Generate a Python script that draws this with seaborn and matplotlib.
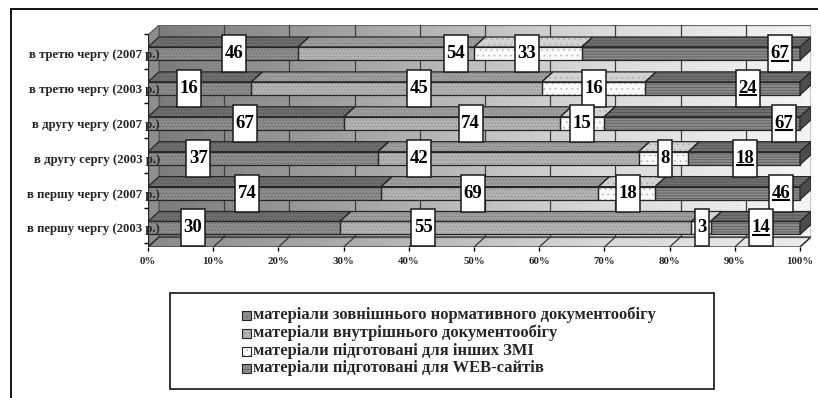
import numpy as np
import pandas as pd
import matplotlib
matplotlib.use("Agg")
import matplotlib.pyplot as plt
import seaborn as sns
from matplotlib.patches import Polygon, Rectangle
from matplotlib.path import Path
from matplotlib.lines import Line2D
from matplotlib.colors import LinearSegmentedColormap
from matplotlib.transforms import Affine2D, IdentityTransform

# ---------------------------------------------------------------- data
categories = [
    "в третю чергу (2007 р.)",
    "в третю чергу (2003 р.)",
    "в другу чергу (2007 р.)",
    "в другу сергу (2003 р.)",
    "в першу чергу (2007 р.)",
    "в першу чергу (2003 р.)",
]
series_names = [
    "матеріали зовнішнього нормативного документообігу",
    "матеріали внутрішнього документообігу",
    "матеріали підготовані для інших ЗМІ",
    "матеріали підготовані для WEB-сайтів",
]
external_docs = [46, 16, 67, 37, 74, 30]
internal_docs = [54, 45, 74, 42, 69, 55]
other_media = [33, 16, 15, 8, 18, 3]
web_sites = [67, 24, 67, 18, 46, 14]
x_ticks = [0, 10, 20, 30, 40, 50, 60, 70, 80, 90, 100]
x_tick_labels = ["0%", "10%", "20%", "30%", "40%", "50%", "60%", "70%", "80%", "90%", "100%"]

# ---------------------------------------------------------------- layout / style
W, H = 818, 398
PX_PER_PCT = 6.52
PX_PER_ROW = 34.9
DX = 11 / PX_PER_PCT          # depth offset along x (percent units)
DY = 10 / PX_PER_ROW          # depth offset along y (row units)
BAR_W = 13 / PX_PER_ROW
Y_FLOOR = (247 - 53.5) / PX_PER_ROW
Y_TOP = (25 - 53.5) / PX_PER_ROW

# horizontal position (percent) of each value box, per row and series
label_x = [
    [13.2, 47.2, 58.1, 96.9],
    [6.3, 41.6, 68.4, 92.0],
    [14.9, 49.5, 66.6, 97.5],
    [7.7, 41.6, 79.3, 91.6],
    [15.2, 49.8, 73.6, 97.1],
    [6.9, 42.2, 85.0, 94.0],
]

front_col = ["#8c8c8c", "#b3b3b3", "#fbfbfb", "#8a8a8a"]
front_hatch_col = ["#6c6c6c", "#939393", "#bdbdbd", "#5e5e5e"]
top_col = ["#6e6e6e", "#9d9d9d", "#d3d3d3", "#717171"]
top_hatch_col = ["#565656", "#828282", "#b0b0b0", "#555555"]
hatches = [".....", ".....", "...", "------"]
END_COL = "#4c4c4c"
EDGE = "#262626"

sns.set_style("white")
plt.rcParams["font.family"] = ["Liberation Serif", "DejaVu Serif"]
plt.rcParams["font.weight"] = "bold"
plt.rcParams["hatch.linewidth"] = 0.6

# ---------------------------------------------------------------- shares
counts = pd.DataFrame(
    {
        series_names[0]: external_docs,
        series_names[1]: internal_docs,
        series_names[2]: other_media,
        series_names[3]: web_sites,
    },
    index=categories,
)
shares = counts.div(counts.sum(axis=1), axis=0) * 100
cum = shares.cumsum(axis=1)
starts = cum - shares

fig = plt.figure(figsize=(W / 100, H / 100), dpi=100)
ax = fig.add_axes([148 / W, (H - 247) / H, 663 / W, 222 / H])

# ---------------------------------------------------------------- walls
wall_cmap = LinearSegmentedColormap.from_list("wall", ["#7c7c7c", "#a9a9a9", "#d9d9d9", "#f5f5f5"])
floor_cmap = LinearSegmentedColormap.from_list("floor", ["#8a8a8a", "#b0b0b0", "#d6d6d6", "#ececec"])
grad = np.linspace(0, 1, 256).reshape(1, -1)
ax.imshow(grad, extent=(DX, 100 + DX, Y_FLOOR - DY, Y_TOP), aspect="auto",
          cmap=wall_cmap, zorder=0.1, interpolation="bilinear")
ax.add_patch(Rectangle((DX, Y_TOP), 100, Y_FLOOR - DY - Y_TOP, fill=False,
                       edgecolor="#6a6a6a", lw=0.9, zorder=0.3))

floor_pts = [(0, Y_FLOOR), (100, Y_FLOOR), (100 + DX, Y_FLOOR - DY), (DX, Y_FLOOR - DY)]
floor_poly = Polygon(floor_pts, closed=True, facecolor="none", edgecolor="#333333", lw=0.9, zorder=0.4)
ax.add_patch(floor_poly)
fim = ax.imshow(grad, extent=(0, 100 + DX, Y_FLOOR, Y_FLOOR - DY), aspect="auto",
                cmap=floor_cmap, zorder=0.2, interpolation="bilinear")
fim.set_clip_path(floor_poly)

left_wall = Polygon([(0, Y_FLOOR), (0, Y_TOP + DY), (DX, Y_TOP), (DX, Y_FLOOR - DY)], closed=True,
                    facecolor="#8e8e8e", edgecolor="#555555", lw=0.8, zorder=0.3)
ax.add_patch(left_wall)
ax.plot([0, 0], [Y_FLOOR, Y_TOP + DY], color="#222222", lw=1.0, zorder=0.5)

# grid on back wall and floor
for t in x_ticks:
    if t > 0:
        ax.plot([t + DX, t + DX], [Y_FLOOR - DY, Y_TOP], color="#3e3e3e", lw=0.9, zorder=0.5)
    ax.plot([t, t + DX], [Y_FLOOR, Y_FLOOR - DY], color="#333333", lw=0.9, zorder=0.5)

# ---------------------------------------------------------------- bars (front faces)
for s in range(3, -1, -1):
    n_before = len(ax.patches)
    sns.barplot(x=cum[series_names[s]].values, y=categories, orient="h", color=front_col[s],
                width=BAR_W, saturation=1, errorbar=None, ax=ax)
    for p in ax.patches[n_before:]:
        p.set_hatch(hatches[s])
        p.set_facecolor(front_col[s])
        p.set_edgecolor(front_hatch_col[s])
        p.set_linewidth(0)
        p.set_zorder(1)

# top faces, outlines and right end faces
for i, cat in enumerate(categories):
    yt, yb = i - BAR_W / 2, i + BAR_W / 2
    for s, name in enumerate(series_names):
        x0, x1 = starts.loc[cat, name], cum.loc[cat, name]
        pts = [(x0, yt), (x1, yt), (x1 + DX, yt - DY), (x0 + DX, yt - DY)]
        ax.add_patch(Polygon(pts, closed=True, facecolor=top_col[s], edgecolor=top_hatch_col[s],
                             hatch=hatches[s], lw=0, zorder=2))
        ax.add_patch(Polygon(pts, closed=True, fill=False, edgecolor=EDGE, lw=0.9, zorder=2.6))
        ax.add_patch(Rectangle((x0, yt), x1 - x0, BAR_W, fill=False, edgecolor=EDGE, lw=0.9, zorder=2.6))
    xe = cum.loc[cat, series_names[-1]]
    ax.add_patch(Polygon([(xe, yt), (xe + DX, yt - DY), (xe + DX, yb - DY), (xe, yb)], closed=True,
                         facecolor=END_COL, edgecolor=EDGE, lw=0.9, zorder=2.6))


# ---------------------------------------------------------------- value boxes
def tall_box(x0, y0, width, height, mutation_size):
    pad_x = 2.5
    box_h = 37.0
    cy = y0 + height / 2
    left, right = x0 - pad_x, x0 + width + pad_x
    bottom, top = cy - box_h / 2, cy + box_h / 2
    return Path([(left, bottom), (right, bottom), (right, top), (left, top), (left, bottom)], closed=True)


underlined = []
for i, cat in enumerate(categories):
    for s, name in enumerate(series_names):
        t = ax.text(label_x[i][s], i, f"{counts.loc[cat, name]}", ha="center", va="center",
                    fontsize=13.5, fontweight="bold", color="black", zorder=6,
                    bbox=dict(boxstyle=tall_box, facecolor="white", edgecolor="#1a1a1a", lw=1.1))
        if s == 3:
            underlined.append(t)

# ---------------------------------------------------------------- axes
ax.set_xlim(0, 100 + DX)
ax.set_ylim(Y_FLOOR, Y_TOP)
ax.set_xlabel("")
ax.set_ylabel("")
for sp in ax.spines.values():
    sp.set_visible(False)
ax.set_xticks(x_ticks)
ax.set_xticklabels(x_tick_labels, fontsize=7.8, fontweight="bold")
ax.tick_params(axis="x", which="major", direction="out", length=3, width=1, color="black", pad=4.5,
               bottom=True)
ax.set_yticks(range(len(categories)))
ax.set_yticklabels(categories, fontsize=9.2, fontweight="bold")
ax.set_yticks([k - 0.57 for k in range(len(categories) + 1)], minor=True)
ax.tick_params(axis="y", which="major", length=0, pad=-8.5, left=True)
ax.tick_params(axis="y", which="minor", direction="out", length=3, width=1, color="black", left=True)
ax.grid(False)
ax.set_facecolor("none")
ax.xaxis.set_zorder(7)
ax.yaxis.set_zorder(7)

# ---------------------------------------------------------------- frame and legend (pixel coords)
pix = Affine2D().scale(1, -1).translate(0, H)
fig.add_artist(Line2D([11, W], [9, 9], color="black", lw=1.3, transform=pix))
fig.add_artist(Line2D([11, 11], [9, H], color="black", lw=1.3, transform=pix))
fig.add_artist(Rectangle((170, 293), 544, 96, fill=False, edgecolor="black", lw=1.1, transform=pix))

legend_rows = [315, 333, 351, 368.5]
for s, name in enumerate(series_names):
    yc = legend_rows[s]
    fig.add_artist(Rectangle((242, yc - 4.5), 9, 9, facecolor=front_col[s], edgecolor=front_hatch_col[s],
                             hatch=hatches[s][:3], lw=0, transform=pix))
    fig.add_artist(Rectangle((242, yc - 4.5), 9, 9, fill=False, edgecolor="#222222", lw=0.8, transform=pix))
    fig.text(253, yc, name, transform=pix, ha="left", va="center", fontsize=11.9, fontweight="bold")

# underline the WEB-site values
fig.canvas.draw()
renderer = fig.canvas.get_renderer()
for t in underlined:
    bb = t.get_window_extent(renderer)
    fig.add_artist(Line2D([bb.x0 + 0.5, bb.x1 - 0.5], [bb.y0 + 1.5, bb.y0 + 1.5], color="black",
                          lw=1.5, transform=IdentityTransform(), solid_capstyle="butt"))

fig.savefig("out.png", dpi=100, facecolor="white")
